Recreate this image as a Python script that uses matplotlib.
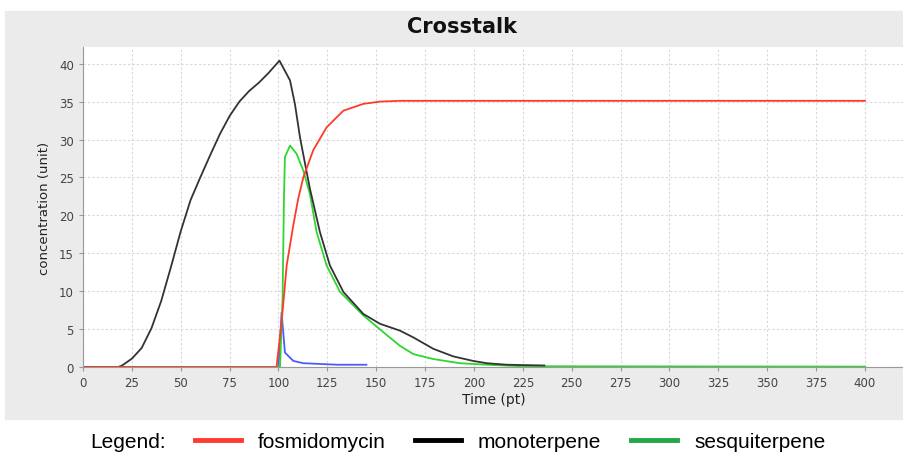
import matplotlib.pyplot as plt
from matplotlib.lines import Line2D
from matplotlib.patches import Rectangle

# values
fos_t = [0, 99, 101.6, 104.2, 107.6, 110.1, 112.7, 117.8, 124.6, 133.2, 143.4, 151.9, 162, 180, 400]
fos_c = [0, 0, 5.9, 13.4, 18.7, 22.2, 25.0, 28.6, 31.6, 33.8, 34.7, 35.0, 35.1, 35.1, 35.1]

mono_t = [0, 18, 20, 25, 30, 35, 40, 45, 50, 55, 60, 65, 70, 75, 80, 85, 90, 95, 100.5,
          105.9, 108.4, 111, 113.6, 116.1, 118.7, 121.2, 126.3, 133.2, 143.4, 151.9,
          162.1, 169, 179.2, 189.4, 199.6, 206.5, 216.7, 236]
mono_c = [0, 0, 0.2, 1.1, 2.5, 5.1, 8.7, 13.2, 17.9, 22.0, 25.0, 27.9, 30.7, 33.1, 35.0,
          36.4, 37.5, 38.8, 40.4, 37.8, 34.7, 30.3, 26.8, 23.5, 20.6, 17.8, 13.4, 9.9, 7.0,
          5.7, 4.8, 3.9, 2.4, 1.4, 0.8, 0.5, 0.3, 0.2]

sesq_t = [0, 100.8, 102.1, 102.8, 103.3, 105.9, 109.3, 112.7, 116.1, 119.5, 124.6, 131.5,
          143.4, 153.6, 162.1, 169, 179.2, 192.8, 206.5, 225, 400]
sesq_c = [0, 0, 9.0, 22.2, 27.7, 29.2, 28.1, 25.9, 22.8, 17.8, 13.4, 9.9, 6.8, 4.6, 2.8,
          1.7, 1.05, 0.5, 0.3, 0.1, 0.05]

other_t = [100, 101.6, 103.3, 107.6, 112.7, 130, 145]
other_c = [0, 7.2, 1.9, 0.8, 0.5, 0.3, 0.3]

xticks = list(range(0, 401, 25))
yticks = list(range(0, 41, 5))

fig = plt.figure(figsize=(9.04, 4.56), dpi=100)
fig.patches.append(Rectangle((5 / 904, 1 - 420 / 456), 1, (420 - 12) / 456,
                             transform=fig.transFigure, color='#ebebeb', zorder=-10))

ax = fig.add_axes([83 / 904, 1 - 368 / 456, 1 - 83 / 904, 320 / 456])
ax.set_facecolor('white')
ax.plot(other_t, other_c, color='#4a5cff', lw=1.3)
ax.plot(sesq_t, sesq_c, color='#2fd62f', lw=1.3)
ax.plot(mono_t, mono_c, color='#333333', lw=1.3)
ax.plot(fos_t, fos_c, color='#ff3a2a', lw=1.3)

ax.set_xlim(0, 420)
ax.set_ylim(0, 42.2)
ax.set_xticks(xticks)
ax.set_yticks(yticks)
ax.grid(True, color='#d8d8d8', linestyle=(0, (2, 2)), lw=0.8)
ax.set_axisbelow(True)
for s in ['top', 'right']:
    ax.spines[s].set_visible(False)
for s in ['left', 'bottom']:
    ax.spines[s].set_color('#999999')
ax.tick_params(labelsize=8.5, colors='#444444', length=3, color='#999999')
ax.set_xlabel('Time (pt)', fontsize=10, color='#222222', labelpad=2)
ax.set_ylabel('concentration (unit)', fontsize=9.5, color='#222222', labelpad=6)

fig.text(462 / 904, 1 - 27 / 456, 'Crosstalk', ha='center', va='center',
         fontsize=15, fontweight='bold', color='#111111')

fig.text(90 / 904, 1 - 443 / 456, 'Legend:', ha='left', va='center',
         fontsize=15, family='Liberation Sans')
handles = [Line2D([], [], color='#ff3b30', lw=3.5),
           Line2D([], [], color='black', lw=3.5),
           Line2D([], [], color='#22a844', lw=3.5)]
fig.legend(handles, ['fosmidomycin', 'monoterpene', 'sesquiterpene'], ncol=3,
           loc='center', bbox_to_anchor=(510 / 904, 1 - 443 / 456), frameon=False,
           prop={'family': 'Liberation Sans', 'size': 15}, handlelength=2.2,
           columnspacing=1.45, handletextpad=0.8)

fig.savefig('out.png', dpi=100)
